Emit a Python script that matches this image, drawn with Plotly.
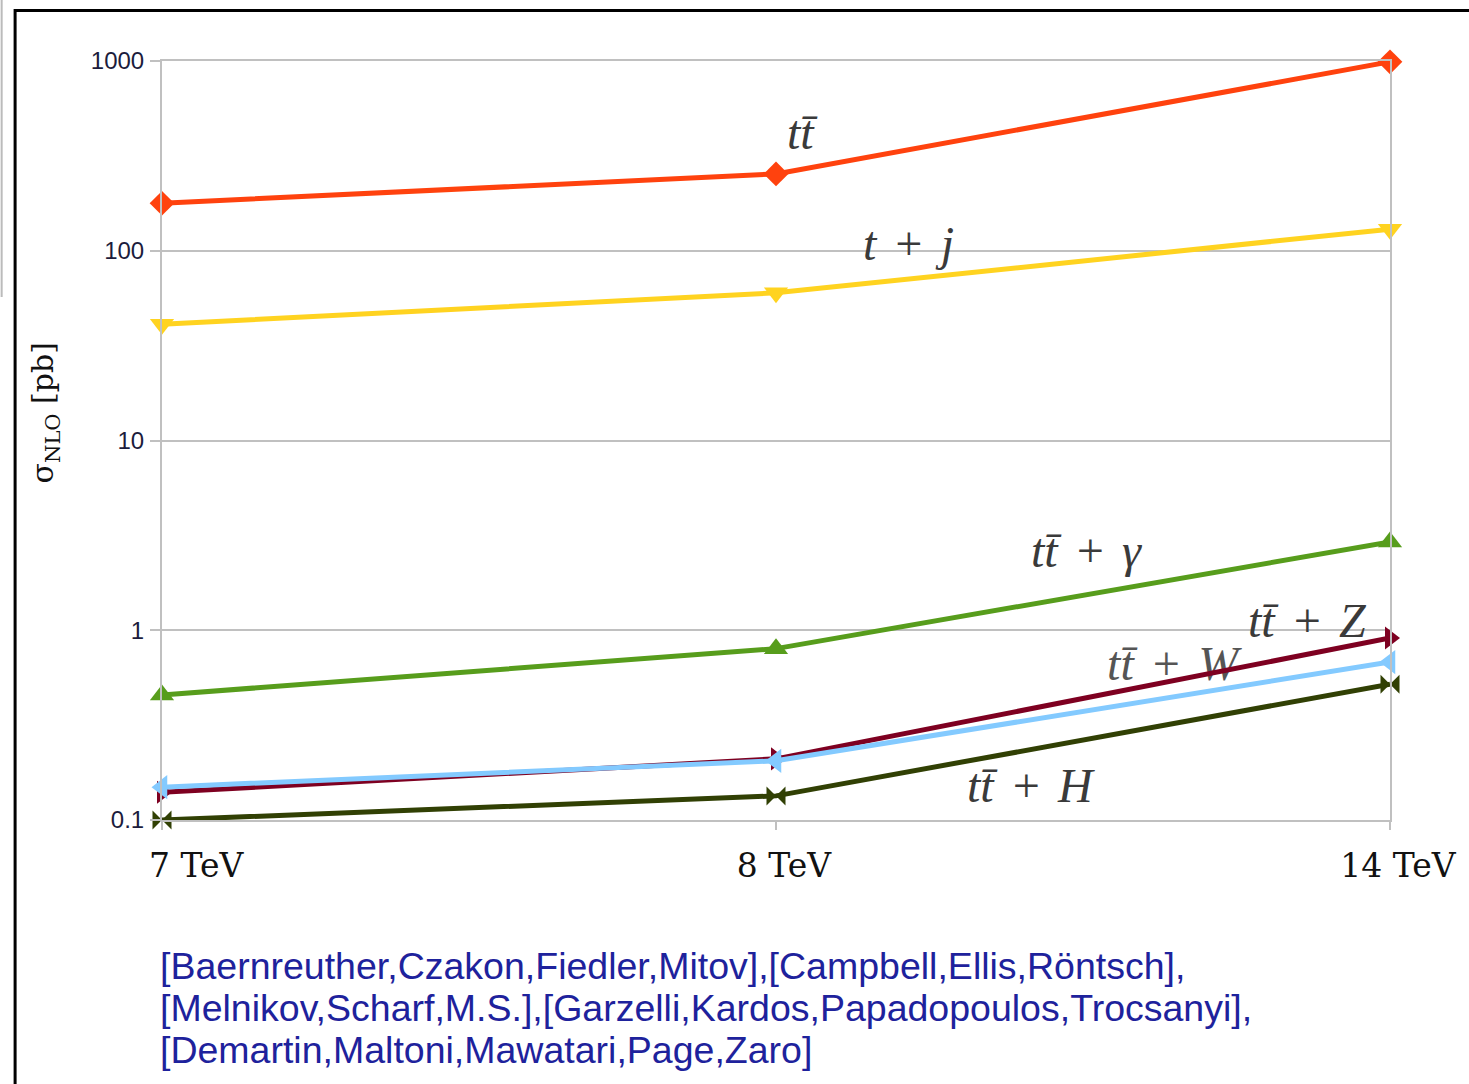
import plotly.graph_objects as go

# ---------------- data ----------------
energies = ["7 TeV", "8 TeV", "14 TeV"]
tick_vals_y = [0.1, 1, 10, 100, 1000]
tick_text_y = ["0.1", "1", "10", "100", "1000"]

sigma_tt = [178, 254, 990]
sigma_tj = [41, 60, 130]
sigma_tta = [0.456, 0.80, 2.92]
sigma_ttz = [0.140, 0.210, 0.91]
sigma_ttw = [0.149, 0.205, 0.68]
sigma_tth = [0.100, 0.134, 0.52]

series_names = ["tt̄", "t + j", "tt̄ + γ", "tt̄ + Z", "tt̄ + W", "tt̄ + H"]
citations = [
    "[Baernreuther,Czakon,Fiedler,Mitov],[Campbell,Ellis,Röntsch],",
    "[Melnikov,Scharf,M.S.],[Garzelli,Kardos,Papadopoulos,Trocsanyi],",
    "[Demartin,Maltoni,Mawatari,Page,Zaro]",
]

xpos = list(range(len(energies)))

# ---------------- layout geometry ----------------
W, H = 1469, 1084
L, R, T, B = 162, 74, 61, 264
PW, PH = W - L - R, H - T - B


def px(x):
    return (x - L) / PW


def py(y):
    return (T + PH - y) / PH


fig = go.Figure()

SP = "\u2004"
math_font = dict(family="Liberation Serif", size=48, color="#3a3a3a", style="italic")

# label that lies underneath the lines (tt+W)
fig.add_trace(go.Scatter(
    x=[1.646], y=[10 ** -0.199], mode="text",
    text=["tt̄" + SP + "+" + SP + "W"],
    textfont=dict(family="Liberation Serif", size=48, color="#555555", style="italic"),
    showlegend=False, hoverinfo="skip", cliponaxis=False,
))

styles = [
    (sigma_tt, "#ff420e", "diamond", 19),
    (sigma_tj, "#ffd320", "triangle-down", 21),
    (sigma_tta, "#579d1c", "triangle-up", 21),
    (sigma_ttz, "#7e0021", "triangle-right", 20),
    (sigma_ttw, "#83caff", "triangle-left", 21),
    (sigma_tth, "#314004", "bowtie", 19),
]
for (vals, col, sym, sz), nm in zip(styles, series_names):
    fig.add_trace(go.Scatter(
        x=xpos, y=vals, mode="lines+markers", name=nm,
        line=dict(color=col, width=5),
        marker=dict(symbol=sym, size=sz, color=col, line=dict(width=0)),
        cliponaxis=False, showlegend=False,
    ))

grid = "#c0c0c0"
fig.update_layout(
    width=W, height=H,
    margin=dict(l=L, r=R, t=T, b=B),
    paper_bgcolor="white", plot_bgcolor="white",
    showlegend=False,
    xaxis=dict(
        range=[0, 2], tickmode="array", tickvals=xpos,
        ticktext=["\u00a0" * 5 + energies[0], energies[1], energies[2]],
        showgrid=False, zeroline=False,
        showline=True, linecolor=grid, linewidth=2, mirror=True,
        ticks="outside", ticklen=8, tickwidth=2, tickcolor=grid,
        tickfont=dict(family="DejaVu Serif", size=33, color="#111111"),
        ticklabelshift=8, ticklabelstandoff=7,
    ),
    yaxis=dict(
        type="log", range=[-1, 3], tickmode="array",
        tickvals=tick_vals_y, ticktext=tick_text_y,
        showgrid=True, gridcolor=grid, gridwidth=2, zeroline=False,
        showline=True, linecolor=grid, linewidth=2, mirror=True,
        ticks="outside", ticklen=10, tickwidth=2, tickcolor=grid,
        tickfont=dict(family="Liberation Sans", size=24, color="#1c1c3c"),
        ticklabelstandoff=1,
    ),
)

# white patches hiding gridline behind two labels (between grid and traces)
for x0, x1, yc in [(862, 962, 251), (1246, 1380, 631)]:
    fig.add_shape(type="rect", xref="paper", yref="paper", layer="between",
                  x0=px(x0), x1=px(x1), y0=py(yc + 4), y1=py(yc - 4),
                  line=dict(width=0), fillcolor="white")

# curve labels (annotations)
labels = [
    ("t" + "t̄", 805, 132),
    ("t" + SP + "+" + SP + "j", 912, 243),
    ("tt̄" + SP + "+" + SP + "γ", 1090, 550),
    ("tt̄" + SP + "+" + SP + "Z", 1312, 620),
    ("tt̄" + SP + "+" + SP + "H", 1035, 785),
]
for txt, x, y in labels:
    fig.add_annotation(
        x=px(x), y=py(y), xref="paper", yref="paper", text=txt,
        showarrow=False, font=math_font, xanchor="center", yanchor="middle",
    )

# y-axis title
fig.add_annotation(
    x=px(45), y=py(413), xref="paper", yref="paper",
    text="σ<sub>NLO</sub> [pb]", textangle=-90, showarrow=False,
    font=dict(family="DejaVu Serif", size=30, color="#111111"),
    xanchor="center", yanchor="middle",
)

# citations
for i, line in enumerate(citations):
    fig.add_annotation(
        x=px(158), y=py(966 + 42 * i), xref="paper", yref="paper",
        text=line, showarrow=False, xanchor="left", yanchor="middle",
        font=dict(family="Liberation Sans", size=37.5, color="#1e229c"),
    )

# page frame
fig.add_shape(type="rect", xref="paper", yref="paper",
              x0=px(14.5), x1=px(1480), y0=py(1100), y1=py(10.5),
              line=dict(color="black", width=3), fillcolor="rgba(0,0,0,0)")
fig.add_shape(type="line", xref="paper", yref="paper",
              x0=px(1), x1=px(1), y0=py(0), y1=py(297),
              line=dict(color="#bbbbbb", width=2))

fig.write_html("out.html")
